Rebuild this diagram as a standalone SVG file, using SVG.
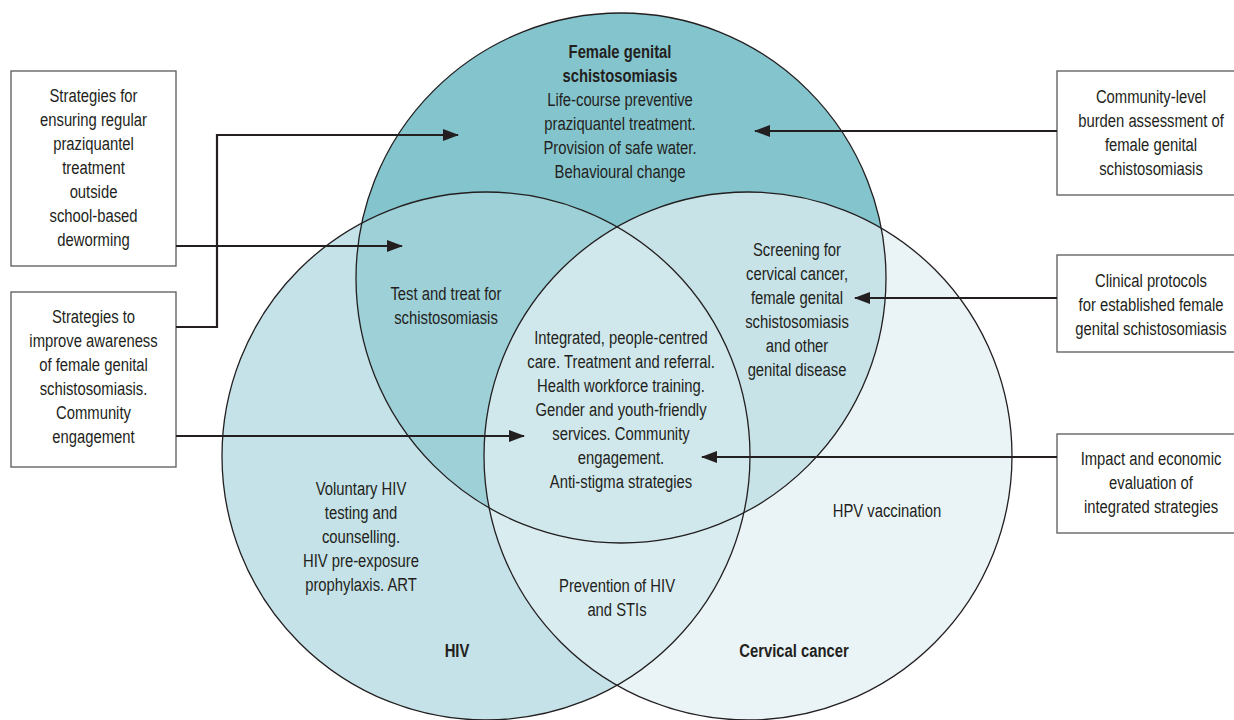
<svg xmlns="http://www.w3.org/2000/svg" width="1234" height="720" viewBox="0 0 1234 720">
<style>
text{font-family:"Liberation Sans",Arial,sans-serif;font-size:19px;fill:#231f20;text-anchor:middle}
.b{font-weight:bold}
.box{fill:#fff;stroke:#58595b;stroke-width:1.3}
.ring{fill:none;stroke:#231f20;stroke-width:1.3}
.conn{fill:none;stroke:#231f20;stroke-width:2.2}
</style>
<defs>
<marker id="ah" markerWidth="16" markerHeight="12" refX="15" refY="6" orient="auto" markerUnits="userSpaceOnUse">
<path d="M0,0 L16,6 L0,12 Z" fill="#231f20"/>
</marker>
<clipPath id="cL"><circle cx="486" cy="456" r="264"/></clipPath>
<clipPath id="cR"><circle cx="748" cy="456" r="264"/></clipPath>
</defs>
<rect width="1234" height="720" fill="#fff"/>
<g id="venn">
<circle cx="486" cy="456" r="264" fill="#c4e2e7"/>
<circle cx="748" cy="456" r="264" fill="#eaf4f6"/>
<circle cx="748" cy="456" r="264" fill="#d9ecf0" clip-path="url(#cL)"/>
<circle cx="621" cy="278" r="265" fill="#84c5cd"/>
<circle cx="621" cy="278" r="265" fill="#9ed0d8" clip-path="url(#cL)"/>
<circle cx="621" cy="278" r="265" fill="#c7e3e8" clip-path="url(#cR)"/>
<g clip-path="url(#cR)"><circle cx="621" cy="278" r="265" fill="#d0e8ec" clip-path="url(#cL)"/></g>
<circle class="ring" cx="486" cy="456" r="264"/>
<circle class="ring" cx="748" cy="456" r="264"/>
<circle class="ring" cx="621" cy="278" r="265"/>
</g>
<g id="fgs" transform="translate(620 0) scale(0.78 1)">
<text class="b" x="0" y="58">Female genital</text>
<text class="b" x="0" y="82">schistosomiasis</text>
<text x="0" y="106">Life-course preventive</text>
<text x="0" y="130">praziquantel treatment.</text>
<text x="0" y="154">Provision of safe water.</text>
<text x="0" y="178">Behavioural change</text>
</g>
<g id="fgs-hiv" transform="translate(446 0) scale(0.78 1)">
<text x="0" y="300">Test and treat for</text>
<text x="0" y="324">schistosomiasis</text>
</g>
<g id="fgs-cc" transform="translate(797 0) scale(0.78 1)">
<text x="0" y="256">Screening for</text>
<text x="0" y="280">cervical cancer,</text>
<text x="0" y="304">female genital</text>
<text x="0" y="328">schistosomiasis</text>
<text x="0" y="352">and other</text>
<text x="0" y="376">genital disease</text>
</g>
<g id="centre" transform="translate(621 0) scale(0.78 1)">
<text x="0" y="344">Integrated, people-centred</text>
<text x="0" y="368">care. Treatment and referral.</text>
<text x="0" y="392">Health workforce training.</text>
<text x="0" y="416">Gender and youth-friendly</text>
<text x="0" y="440">services. Community</text>
<text x="0" y="464">engagement.</text>
<text x="0" y="488">Anti-stigma strategies</text>
</g>
<g id="hiv">
<g transform="translate(361 0) scale(0.78 1)">
<text x="0" y="495">Voluntary HIV</text>
<text x="0" y="519">testing and</text>
<text x="0" y="543">counselling.</text>
<text x="0" y="567">HIV pre-exposure</text>
<text x="0" y="591">prophylaxis. ART</text>
</g>
<text class="b" x="0" y="657" transform="translate(457 0) scale(0.78 1)">HIV</text>
</g>
<g id="hiv-cc" transform="translate(617 0) scale(0.78 1)">
<text x="0" y="592">Prevention of HIV</text>
<text x="0" y="616">and STIs</text>
</g>
<g id="cc">
<text x="0" y="517" transform="translate(887 0) scale(0.78 1)">HPV vaccination</text>
<text class="b" x="0" y="657" transform="translate(794 0) scale(0.78 1)">Cervical cancer</text>
</g>
<g id="box-praziquantel">
<rect class="box" x="11" y="71" width="165" height="195"/>
<g transform="translate(93.5 0) scale(0.78 1)">
<text x="0" y="102">Strategies for</text>
<text x="0" y="126">ensuring regular</text>
<text x="0" y="150">praziquantel</text>
<text x="0" y="174">treatment</text>
<text x="0" y="198">outside</text>
<text x="0" y="222">school-based</text>
<text x="0" y="246">deworming</text>
</g>
</g>
<g id="box-awareness">
<rect class="box" x="11" y="292" width="165" height="175"/>
<g transform="translate(93.5 0) scale(0.78 1)">
<text x="0" y="323">Strategies to</text>
<text x="0" y="347">improve awareness</text>
<text x="0" y="371">of female genital</text>
<text x="0" y="395">schistosomiasis.</text>
<text x="0" y="419">Community</text>
<text x="0" y="443">engagement</text>
</g>
</g>
<g id="box-burden">
<rect class="box" x="1057" y="71" width="200" height="124"/>
<g transform="translate(1151 0) scale(0.78 1)">
<text x="0" y="103">Community-level</text>
<text x="0" y="127">burden assessment of</text>
<text x="0" y="151">female genital</text>
<text x="0" y="175">schistosomiasis</text>
</g>
</g>
<g id="box-clinical">
<rect class="box" x="1057" y="255" width="200" height="97"/>
<g transform="translate(1151 0) scale(0.78 1)">
<text x="0" y="287">Clinical protocols</text>
<text x="0" y="311">for established female</text>
<text x="0" y="335">genital schistosomiasis</text>
</g>
</g>
<g id="box-impact">
<rect class="box" x="1057" y="434" width="200" height="99"/>
<g transform="translate(1151 0) scale(0.78 1)">
<text x="0" y="465">Impact and economic</text>
<text x="0" y="489">evaluation of</text>
<text x="0" y="513">integrated strategies</text>
</g>
</g>
<g id="connectors">
<path class="conn" d="M176,246 H402" marker-end="url(#ah)"/>
<path class="conn" d="M176,327 H217 V135 H458" marker-end="url(#ah)"/>
<path class="conn" d="M176,436 H524" marker-end="url(#ah)"/>
<path class="conn" d="M1057,131 H755" marker-end="url(#ah)"/>
<path class="conn" d="M1057,298 H855" marker-end="url(#ah)"/>
<path class="conn" d="M1057,457 H702" marker-end="url(#ah)"/>
</g>
</svg>
